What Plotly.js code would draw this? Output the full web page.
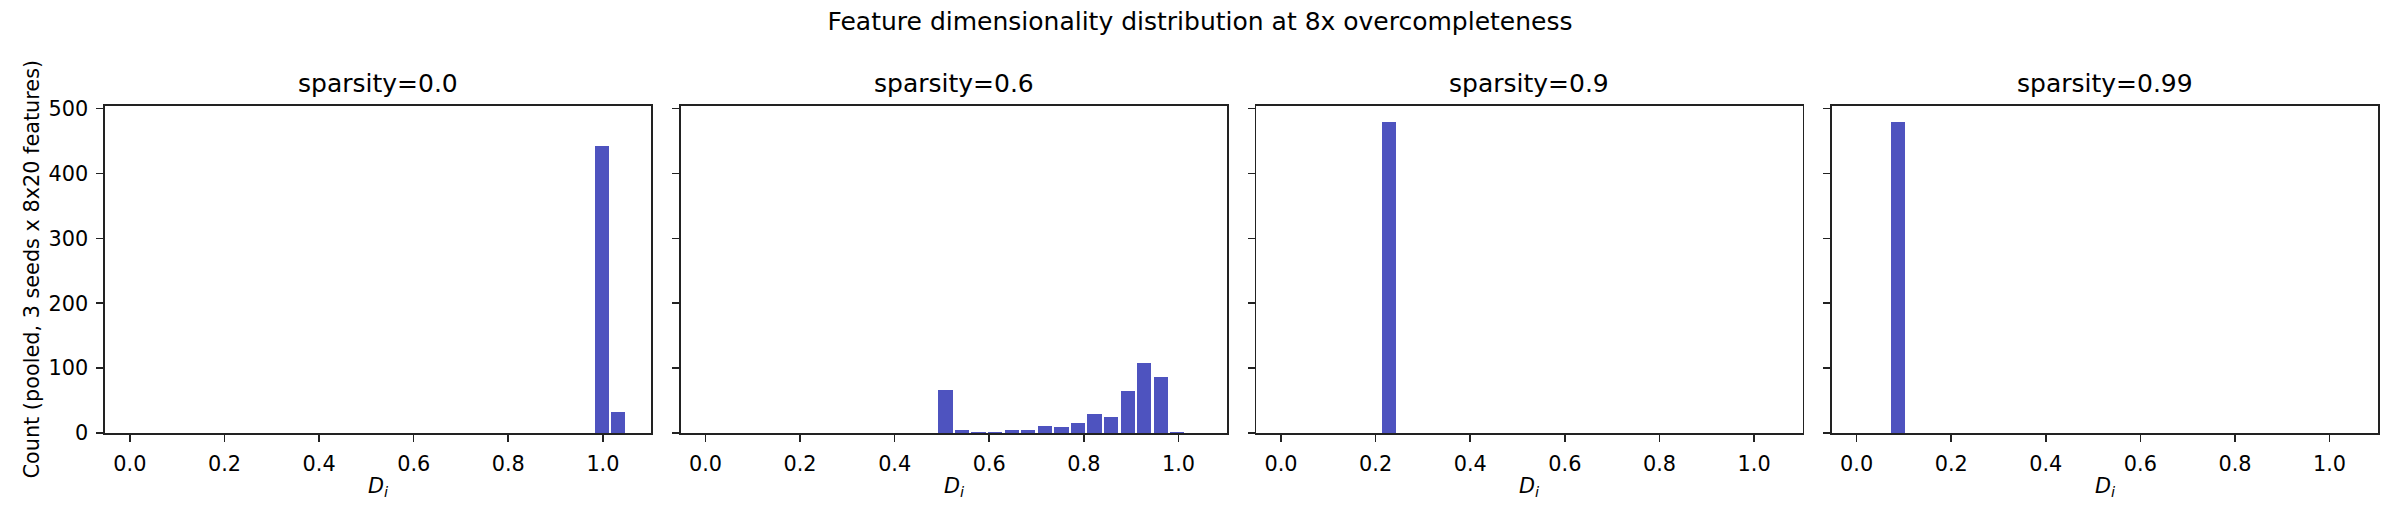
<!DOCTYPE html>
<html>
<head>
<meta charset="utf-8">
<script src="https://cdn.plot.ly/plotly-3.0.1.min.js"></script>
<style>html,body{margin:0;padding:0;background:#fff;}#chart{width:2400px;height:525px;}</style>
</head>
<body>
<div id="chart"></div>
<script>
// ---- data ----
const suptitle = "Feature dimensionality distribution at 8x overcompleteness";
const panelTitles = ["sparsity=0.0", "sparsity=0.6", "sparsity=0.9", "sparsity=0.99"];
const yTitle = "Count (pooled, 3 seeds x 8x20 features)";
const xTitle = "<i>D</i><sub><i>i</i></sub>";

// histogram bin centres (D_i) and counts for each sparsity panel
const d_s00 = [0.9975, 1.0325];
const n_s00 = [443, 33];

const d_s06 = [0.5075, 0.5425, 0.5775, 0.6125, 0.6475, 0.6825, 0.7175, 0.7525,
               0.7875, 0.8225, 0.8575, 0.8925, 0.9275, 0.9625, 0.9975];
const n_s06 = [67, 5, 2, 2, 5, 5, 11, 10, 16, 30, 25, 65, 108, 87, 2];

const d_s09 = [0.2275];
const n_s09 = [480];

const d_s099 = [0.0875];
const n_s099 = [480];

const xTickVals = [0, 0.2, 0.4, 0.6, 0.8, 1.0];
const xTickText = ["0.0", "0.2", "0.4", "0.6", "0.8", "1.0"];
const yTickVals = [0, 100, 200, 300, 400, 500];
const yTickText = ["0", "100", "200", "300", "400", "500"];

// ---- styling ----
const barColor = "#4e53bf";
const barWidth = 0.0302;
const font = "DejaVu Sans, Liberation Sans, sans-serif";
const axisColor = "#222222";

const xs = [d_s00, d_s06, d_s09, d_s099];
const ys = [n_s00, n_s06, n_s09, n_s099];

const W = 2400, H = 525;
const mL = 105, mR = 22, mT = 106, mB = 92;
const plotW = W - mL - mR;
const plotH = H - mT - mB;
const panelW = 546.4 / plotW;
const step = 575.6 / plotW;

const traces = [];
const layout = {
  width: W, height: H,
  margin: {l: mL, r: mR, t: mT, b: mB, pad: 0},
  paper_bgcolor: "#ffffff",
  plot_bgcolor: "#ffffff",
  showlegend: false,
  bargap: 0,
  font: {family: font, size: 20.8, color: "#000"},
  title: {
    text: suptitle,
    font: {family: font, size: 25, color: "#000"},
    x: 0.5, xref: "container", xanchor: "center",
    y: 1 - 21 / H, yref: "container", yanchor: "middle"
  },
  annotations: []
};

for (let i = 0; i < 4; i++) {
  const sfx = i === 0 ? "" : String(i + 1);
  traces.push({
    type: "bar",
    x: xs[i], y: ys[i],
    width: xs[i].map(() => barWidth),
    marker: {color: barColor, line: {width: 0}},
    xaxis: "x" + sfx, yaxis: "y" + sfx,
    hoverinfo: "x+y"
  });
  const d0 = Math.min(1, i * step);
  const d1 = Math.min(1, i * step + panelW);
  layout["xaxis" + sfx] = {
    domain: [d0, d1],
    anchor: "y" + sfx,
    range: [-0.0525, 1.1025],
    tickmode: "array", tickvals: xTickVals, ticktext: xTickText,
    ticks: "outside", ticklen: 7, tickwidth: 1.6, tickcolor: axisColor,
    showline: true, linecolor: axisColor, linewidth: 1.6, mirror: true,
    showgrid: false, zeroline: false,
    tickfont: {family: font, size: 20.8, color: "#000"},
    ticklabelstandoff: 4,
    fixedrange: true
  };
  layout["yaxis" + sfx] = {
    domain: [0, 1],
    anchor: "x" + sfx,
    range: [0, 504],
    tickmode: "array", tickvals: yTickVals, ticktext: yTickText,
    ticks: "outside", ticklen: 7, tickwidth: 1.6, tickcolor: axisColor,
    showline: true, linecolor: axisColor, linewidth: 1.6, mirror: true,
    showgrid: false, zeroline: false,
    showticklabels: i === 0,
    tickfont: {family: font, size: 20.8, color: "#000"},
    ticklabelstandoff: 4,
    fixedrange: true
  };
  // subplot title
  layout.annotations.push({
    text: panelTitles[i], xref: "paper", yref: "paper",
    x: (d0 + d1) / 2, y: 1, xanchor: "center", yanchor: "bottom", yshift: 6,
    showarrow: false, font: {family: font, size: 25, color: "#000"}
  });
  // x axis title
  layout.annotations.push({
    text: xTitle, xref: "paper", yref: "paper",
    x: (d0 + d1) / 2, y: -(487 - (H - mB)) / plotH, xanchor: "center", yanchor: "middle",
    showarrow: false, font: {family: font, size: 20.8, color: "#000"}
  });
}

// shared y axis title
layout.annotations.push({
  text: yTitle, xref: "paper", yref: "paper",
  x: (31 - mL) / plotW, y: 0.5, xanchor: "center", yanchor: "middle",
  textangle: -90, showarrow: false,
  font: {family: font, size: 20.8, color: "#000"}
});

Plotly.newPlot("chart", traces, layout, {staticPlot: true, displayModeBar: false});
</script>
</body>
</html>
